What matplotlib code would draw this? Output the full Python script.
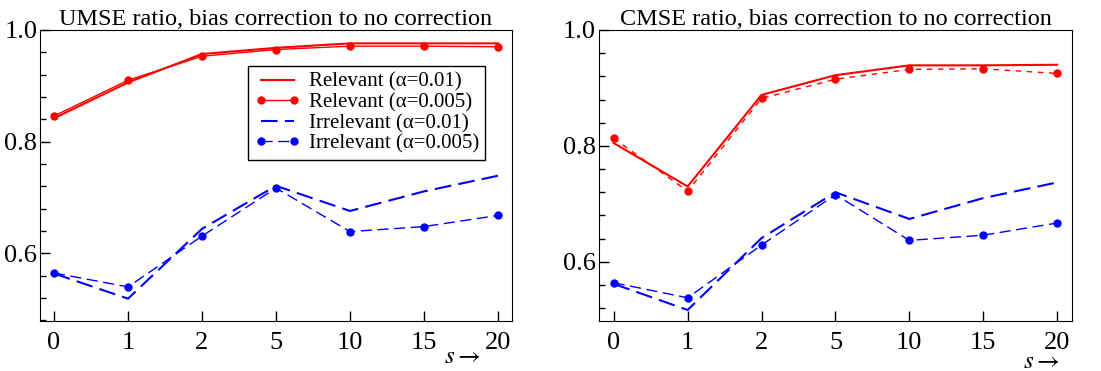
import numpy as np
import matplotlib.pyplot as plt
from matplotlib.ticker import MultipleLocator

plt.rcParams['font.family'] = ['Liberation Serif', 'DejaVu Serif']
plt.rcParams['mathtext.fontset'] = 'stix'

s_labels = ['0', '1', '2', '5', '10', '15', '20']

# UMSE ratio (left panel)
umse_rel_01 = [0.842, 0.906, 0.957, 0.968, 0.976, 0.976, 0.976]
umse_rel_005 = [0.846, 0.910, 0.953, 0.965, 0.971, 0.971, 0.970]
umse_irr_01 = [0.564, 0.519, 0.644, 0.721, 0.676, 0.711, 0.739]
umse_irr_005 = [0.565, 0.540, 0.631, 0.717, 0.639, 0.648, 0.668]

# CMSE ratio (right panel)
cmse_rel_01 = [0.805, 0.730, 0.888, 0.922, 0.939, 0.939, 0.940]
cmse_rel_005 = [0.813, 0.722, 0.882, 0.915, 0.932, 0.933, 0.925]
cmse_irr_01 = [0.562, 0.517, 0.641, 0.720, 0.674, 0.710, 0.737]
cmse_irr_005 = [0.564, 0.538, 0.629, 0.716, 0.637, 0.646, 0.667]

fig = plt.figure(figsize=(11.01, 3.71), dpi=100)
ax1 = fig.add_axes([0.0363, 0.1348, 0.4287, 0.7844])
ax2 = fig.add_axes([0.5440, 0.1348, 0.4296, 0.7844])

x = np.arange(len(s_labels))


def draw(ax, rel01, rel005, irr01, irr005, title, rel005_dash, ymin, xlo, xhi, spos):
    ax.plot(x, rel01, color='red', lw=1.5, label=u'Relevant (\u03b1=0.01)')
    if rel005_dash:
        ax.plot(x, rel005, color='red', lw=1.0, marker='o', markersize=5,
                dashes=(4, 4), label=u'Relevant (\u03b1=0.005)')
    else:
        ax.plot(x, rel005, color='red', lw=1.0, marker='o', markersize=5,
                label=u'Relevant (\u03b1=0.005)')
    ax.plot(x, irr01, color='blue', lw=1.5, dashes=(8, 3.5),
            label=u'Irrelevant (\u03b1=0.01)')
    ax.plot(x, irr005, color='blue', lw=1.0, marker='o', markersize=5,
            dashes=(8, 4), label=u'Irrelevant (\u03b1=0.005)')
    ax.set_xlim(xlo, xhi)
    ax.set_ylim(ymin, 1.0)
    ax.set_xticks(x)
    ax.set_xticklabels(s_labels)
    ax.yaxis.set_major_locator(MultipleLocator(0.2))
    ax.yaxis.set_minor_locator(MultipleLocator(0.04))
    ax.yaxis.set_major_formatter(plt.FuncFormatter(lambda v, p: '%.1f' % v))
    ax.tick_params(direction='in', labelsize=19, length=7, width=1,
                   top=False, right=False)
    ax.tick_params(axis='x', pad=8)
    ax.tick_params(axis='y', pad=2)
    ax.tick_params(which='minor', direction='in', length=4, width=1,
                   top=False, right=False)
    ax.set_title(title, fontsize=17.5, pad=3)
    ax.text(spos[0], spos[1], r'$s\rightarrow$', transform=ax.transAxes,
            fontsize=18, ha='center', va='center')


draw(ax1, umse_rel_01, umse_rel_005, umse_irr_01, umse_irr_005,
     'UMSE ratio, bias correction to no correction', False, 0.479, -0.19, 6.19,
     (0.895, -0.125))
draw(ax2, cmse_rel_01, cmse_rel_005, cmse_irr_01, cmse_irr_005,
     'CMSE ratio, bias correction to no correction', True, 0.498, -0.2, 6.2,
     (0.935, -0.14))

leg = ax1.legend(loc='upper right', bbox_to_anchor=(0.943, 0.876),
                 borderaxespad=0, fancybox=False, edgecolor='black',
                 fontsize=15, handlelength=2.2, numpoints=2,
                 labelspacing=0.05, borderpad=0.3, handletextpad=0.4,
                 framealpha=1)
leg.get_frame().set_linewidth(1.0)

plt.savefig('out.png', dpi=100)
